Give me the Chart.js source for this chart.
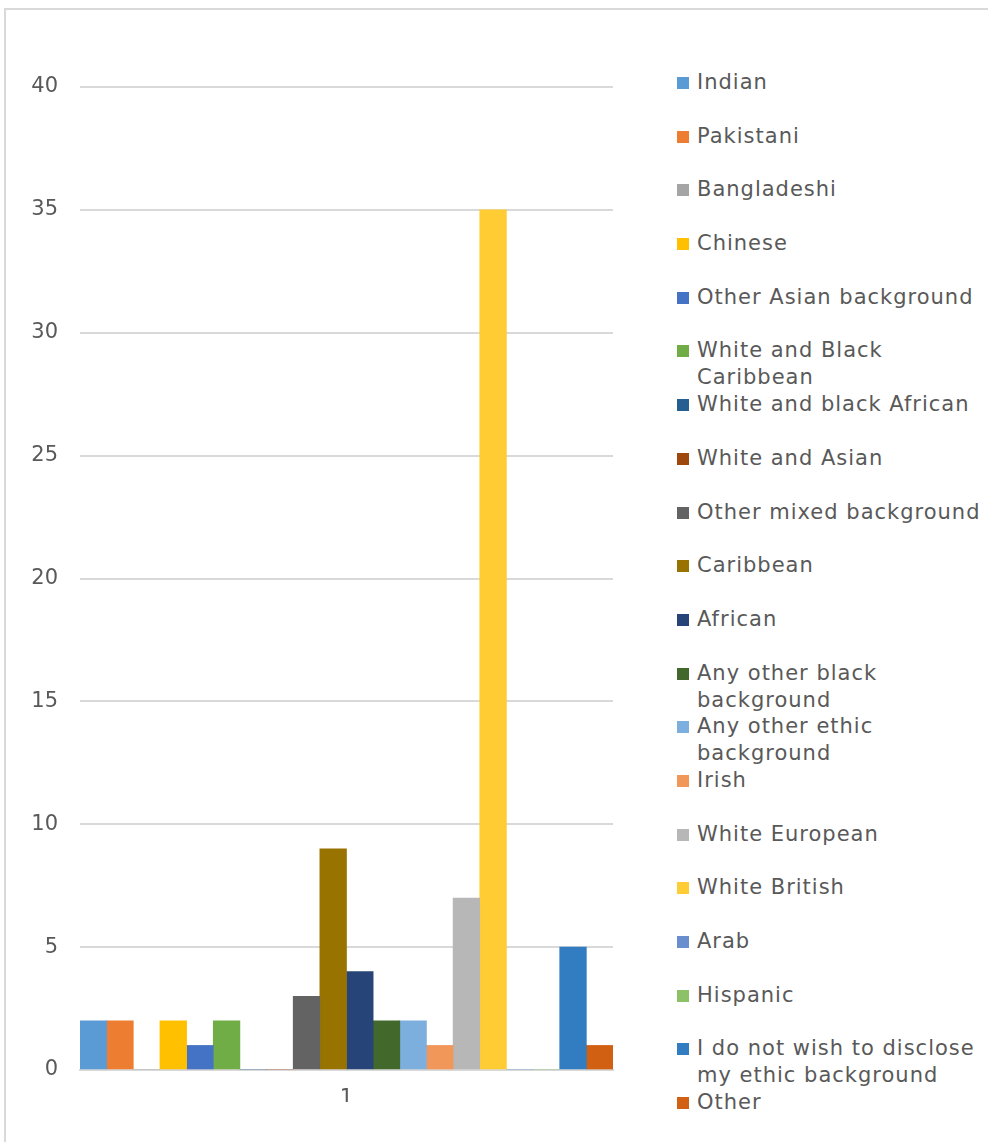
<!DOCTYPE html>
<html lang="en">
  <head>
    <meta charset="UTF-8" />
    <title>Ethnic background</title>
    <script src="https://cdn.jsdelivr.net/npm/chart.js@4.4.0/dist/chart.umd.min.js"></script>
    <style>
      html, body {
        margin: 0;
        padding: 0;
        background: #fff;
      }
      #page {
        position: relative;
        width: 988px;
        height: 1142px;
        overflow: hidden;
      }
      #frame {
        position: absolute;
        left: 4px;
        top: 8px;
        width: 1100px;
        height: 1300px;
        border: 2px solid #d9d9d9;
      }
      #chartBox {
        position: absolute;
        left: 0;
        top: 0;
        width: 625px;
        height: 1142px;
      }
      #legend {
        position: absolute;
        left: 677px;
        top: 69px;
        margin: 0;
        padding: 0;
        list-style: none;
        font-family: "DejaVu Sans", sans-serif;
        font-size: 21px;
        letter-spacing: 1px;
        color: #595959;
      }
      #legend li {
        position: relative;
        height: 53.7px;
        line-height: 27px;
      }
      #legend .box {
        position: absolute;
        left: 0;
        top: 8px;
        width: 12px;
        height: 12px;
      }
      #legend .txt {
        position: absolute;
        left: 20px;
        top: 0;
        width: 292px;
        white-space: normal;
      }
    </style>
  </head>
  <body>
    <div id="page">
      <div id="frame"></div>
      <div id="chartBox"><canvas id="chart"></canvas></div>
      <ul id="legend"></ul>
    </div>
    <script>
      const categories = ["1"];
      const groups = [
        "Indian",
        "Pakistani",
        "Bangladeshi",
        "Chinese",
        "Other Asian background",
        "White and Black Caribbean",
        "White and black African",
        "White and Asian",
        "Other mixed background",
        "Caribbean",
        "African",
        "Any other black background",
        "Any other ethic background",
        "Irish",
        "White European",
        "White British",
        "Arab",
        "Hispanic",
        "I do not wish to disclose my ethic background",
        "Other"
      ];
      const counts = [2, 2, 0, 2, 1, 2, 0, 0, 3, 9, 4, 2, 2, 1, 7, 35, 0, 0, 5, 1];
      const colors = [
        "#5B9BD5", "#ED7D31", "#A5A5A5", "#FFC000", "#4472C4",
        "#70AD47", "#255E91", "#9E480E", "#636363", "#997300",
        "#264478", "#43682B", "#7CAFDD", "#F1975A", "#B7B7B7",
        "#FFCD33", "#698ED0", "#8CC168", "#327DC2", "#D26012"
      ];
      const yTicks = [0, 5, 10, 15, 20, 25, 30, 35, 40];

      const textColor = "#595959";
      const gridColor = "#d9d9d9";

      // builds the legend list on the right from the chart's own legend items
      const htmlLegend = {
        id: "htmlLegend",
        afterUpdate(chart) {
          const ul = document.getElementById("legend");
          ul.innerHTML = "";
          chart.options.plugins.legend.labels
            .generateLabels(chart)
            .forEach((item) => {
              const li = document.createElement("li");
              const box = document.createElement("span");
              box.className = "box";
              box.style.background = item.fillStyle;
              const txt = document.createElement("span");
              txt.className = "txt";
              txt.textContent = item.text;
              li.appendChild(box);
              li.appendChild(txt);
              ul.appendChild(li);
            });
        }
      };

      const ctx = document.getElementById("chart").getContext("2d");
      new Chart(ctx, {
        type: "bar",
        data: {
          labels: categories,
          datasets: groups.map((g, i) => ({
            label: g,
            data: [counts[i]],
            backgroundColor: colors[i],
            borderWidth: 0
          }))
        },
        options: {
          responsive: true,
          maintainAspectRatio: false,
          animation: false,
          datasets: {
            bar: { barPercentage: 1, categoryPercentage: 1 }
          },
          layout: {
            padding: { top: 87, right: 12, bottom: 40, left: 0 }
          },
          plugins: {
            legend: { display: false },
            tooltip: { enabled: false }
          },
          scales: {
            x: {
              grid: { display: false, drawTicks: false },
              border: { color: gridColor, width: 2 },
              ticks: {
                color: textColor,
                padding: 16,
                font: { family: "DejaVu Sans", size: 21 }
              },
              afterFit(scale) {
                scale.height = 32;
              }
            },
            y: {
              min: 0,
              max: 40,
              afterBuildTicks(scale) {
                scale.ticks = yTicks.map((v) => ({ value: v }));
              },
              grid: { color: gridColor, lineWidth: 2, drawTicks: false },
              border: { display: false },
              ticks: {
                color: textColor,
                padding: 22,
                font: { family: "DejaVu Sans", size: 21 }
              },
              afterFit(scale) {
                scale.width = 80;
              }
            }
          }
        },
        plugins: [htmlLegend]
      });
    </script>
  </body>
</html>
